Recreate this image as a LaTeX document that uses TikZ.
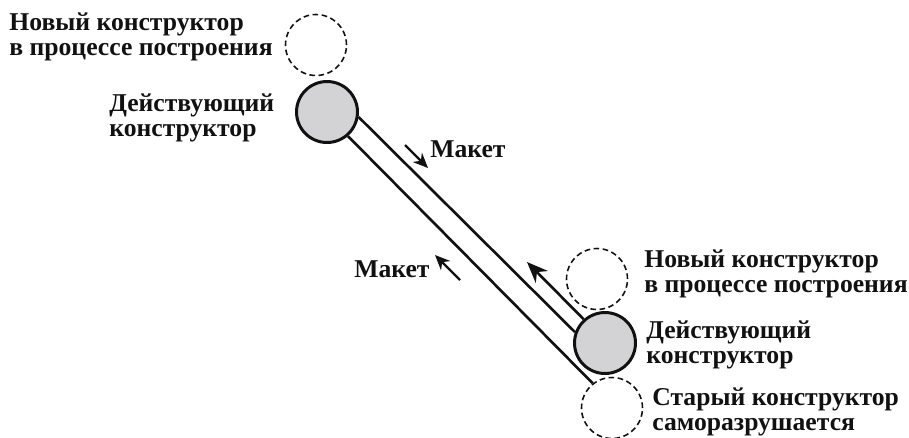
\documentclass[tikz,border=0pt]{standalone}
\usepackage{fontspec}
\setmainfont{Liberation Serif}
\usepackage{tikz}
\usetikzlibrary{arrows.meta, calc, positioning}
\definecolor{cgray}{HTML}{D3D3D5}
\definecolor{cink}{HTML}{111111}
\tikzset{
  liveball/.style = {circle, draw=cink, fill=cgray, line width=1.7pt,
                     minimum size=1.22cm, inner sep=0pt},
  ghostball/.style = {circle, draw=cink, line width=0.9pt,
                      dash pattern=on 3.2pt off 2pt, minimum size=1.22cm, inner sep=0pt},
  tape/.style     = {draw=cink, line width=1.5pt},
  feed/.style     = {draw=cink, line width=1.5pt, -{Stealth[length=4.2mm, width=3.4mm]}},
  nudge/.style    = {draw=cink, line width=1.3pt, -{Stealth[length=3mm, width=2.6mm]}},
  caption/.style  = {font=\bfseries\fontsize{14.6}{13.7}\selectfont, align=left,
                     anchor=base west, inner sep=0pt, text=cink},
}

\begin{document}
\begin{tikzpicture}[x=0.02cm, y=-0.02cm]
  \useasboundingbox (0,0) rectangle (909,437);
  % constructors
  \node[ghostball] (newTop) at (316,45) {};
  \node[liveball]  (actTop) at (327,112) {};
  \node[ghostball] (newBot) at (597,279) {};
  \node[liveball]  (actBot) at (605,343) {};
  \node[ghostball] (oldBot) at (612,408) {};
  % tape
  \draw[tape] (actTop.-9) -- (actBot.160);
  \draw[tape] (actTop.-49) -- (oldBot.128);
  \coordinate (feedTip) at (527,262);
  \draw[feed] (actBot.132) -- (feedTip);
  % small arrows
  \coordinate (mkUpA) at (405,145);
  \coordinate (mkUpB) at (428,168);
  \coordinate (mkDnA) at (460,280);
  \coordinate (mkDnB) at (435,255);
  \draw[nudge] (mkUpA) -- (mkUpB);
  \draw[nudge] (mkDnA) -- (mkDnB);
  % labels (base = last line)
  \node[caption] (lblNewTop) at (9,55) {Новый конструктор\\в процессе построения};
  \node[caption] (lblActTop) at (109,136) {Действующий\\конструктор};
  \node[caption] (lblMkUp) at (430,157) {Макет};
  \node[caption] (lblMkDn) at (354,277) {Макет};
  \node[caption] (lblNewBot) at (644,292) {Новый конструктор\\в процессе построения};
  \node[caption] (lblActBot) at (646,363) {Действующий\\конструктор};
  \node[caption] (lblOld) at (652,430) {Старый конструктор\\саморазрушается};
\end{tikzpicture}
\end{document}
